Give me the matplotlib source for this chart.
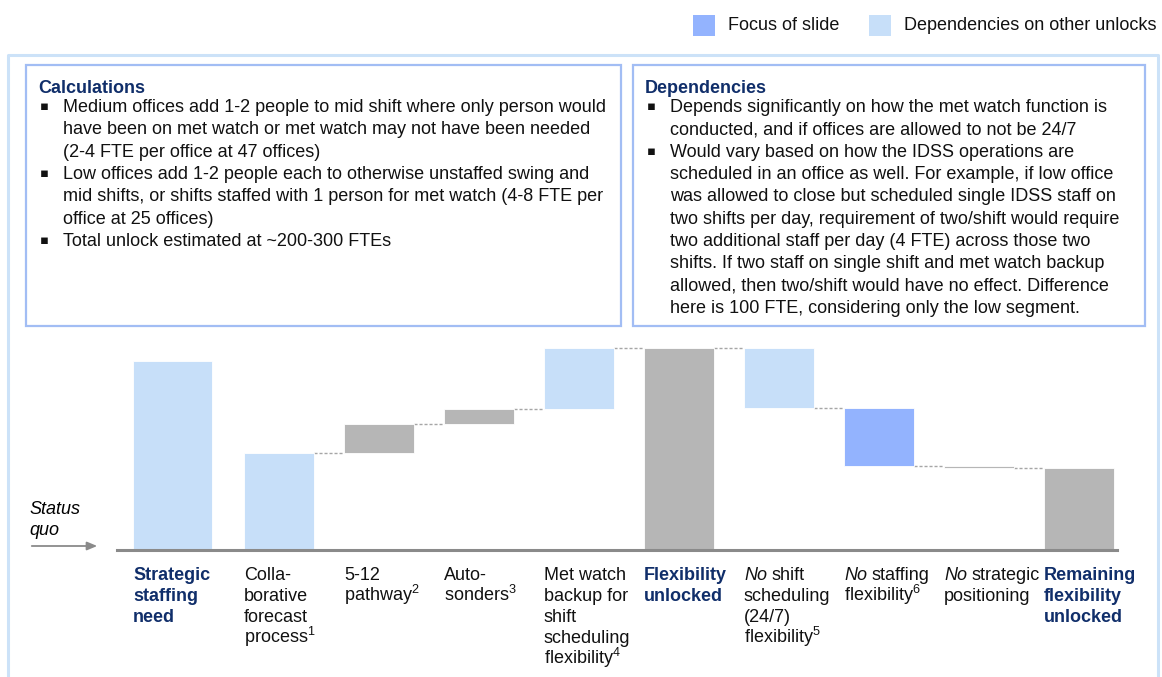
import numpy as np
import matplotlib.pyplot as plt
import matplotlib.transforms as mtransforms
from matplotlib.patches import Rectangle
from matplotlib.lines import Line2D

plt.rcParams['font.family'] = ['Liberation Sans', 'DejaVu Sans']
plt.rcParams['mathtext.fontset'] = 'custom'
plt.rcParams['mathtext.rm'] = 'Liberation Sans'
plt.rcParams['mathtext.it'] = 'Liberation Sans:italic'
plt.rcParams['mathtext.bf'] = 'Liberation Sans:bold'

## data
categories = [
    "Strategic\nstaffing\nneed",
    "Colla-\nborative\nforecast\nprocess$^{\\mathrm{1}}$",
    "5-12\npathway$^{\\mathrm{2}}$",
    "Auto-\nsonders$^{\\mathrm{3}}$",
    "Met watch\nbackup for\nshift\nscheduling\nflexibility$^{\\mathrm{4}}$",
    "Flexibility\nunlocked",
    "No shift\nscheduling\n(24/7)\nflexibility$^{\\mathrm{5}}$",
    "No staffing\nflexibility$^{\\mathrm{6}}$",
    "No strategic\npositioning",
    "Remaining\nflexibility\nunlocked",
]
staffing_need = 189
unlock_steps = [97, 29, 15, 61]      # collaborative, 5-12, auto-sonders, met watch
loss_steps = [-60, -58, -2]          # no shift, no staffing, no strategic
bar_roles = ["dep", "dep", "base", "base", "dep", "total", "dep", "focus", "base", "total"]

legend_labels = ["Focus of slide", "Dependencies on other unlocks"]

calc_title = "Calculations"
calc_bullets = [
    ["Medium offices add 1-2 people to mid shift where only person would",
     "have been on met watch or met watch may not have been needed",
     "(2-4 FTE per office at 47 offices)"],
    ["Low offices add 1-2 people each to otherwise unstaffed swing and",
     "mid shifts, or shifts staffed with 1 person for met watch (4-8 FTE per",
     "office at 25 offices)"],
    ["Total unlock estimated at ~200-300 FTEs"],
]
dep_title = "Dependencies"
dep_bullets = [
    ["Depends significantly on how the met watch function is",
     "conducted, and if offices are allowed to not be 24/7"],
    ["Would vary based on how the IDSS operations are",
     "scheduled in an office as well. For example, if low office",
     "was allowed to close but scheduled single IDSS staff on",
     "two shifts per day, requirement of two/shift would require",
     "two additional staff per day (4 FTE) across those two",
     "shifts. If two staff on single shift and met watch backup",
     "allowed, then two/shift would have no effect. Difference",
     "here is 100 FTE, considering only the low segment."],
]

## styles
LIGHT = "#C7DFF9"
FOCUS = "#93B3FE"
GREY = "#B6B6B6"
NAVY = "#102E6A"
BOX = "#A2BDF4"
FRAME = "#CCE2F8"
role_color = {"dep": LIGHT, "focus": FOCUS, "base": GREY, "total": GREY}

W, H = 1162, 677


def fx(px):
    return px / W


def fy(py):
    return 1 - py / H


fig = plt.figure(figsize=(W / 100, H / 100), dpi=100)
renderer = fig.canvas.get_renderer()

# outer frame (open at the bottom)
fig.add_artist(Line2D([fx(8), fx(8), fx(1158), fx(1158)],
                      [fy(690), fy(55), fy(55), fy(690)],
                      transform=fig.transFigure, color=FRAME, lw=2.2))

# legend
for (x0, lbl, col) in [(693, legend_labels[0], FOCUS), (869, legend_labels[1], LIGHT)]:
    fig.add_artist(Rectangle((fx(x0), fy(36)), 22 / W, 21 / H,
                             transform=fig.transFigure, color=col, lw=0))
    fig.text(fx(x0 + 35), fy(25), lbl, fontsize=13, va="center", ha="left", color="#111111")


def text_box(x0, x1, y0, y1, title, bullets):
    fig.add_artist(Rectangle((fx(x0), fy(y1)), (x1 - x0) / W, (y1 - y0) / H,
                             transform=fig.transFigure, fill=False, ec=BOX, lw=1.6))
    fig.text(fx(x0 + 12), fy(y0 + 28), title, fontsize=13, fontweight="bold",
             color=NAVY, va="baseline")
    base = y0 + 47
    k = 0
    for item in bullets:
        fig.text(fx(x0 + 14), fy(base + 22.3 * k - 2), "\u25aa", fontsize=9.5,
                 va="baseline", color="#111111", family="DejaVu Sans")
        for line in item:
            fig.text(fx(x0 + 37), fy(base + 22.3 * k), line, fontsize=13,
                     va="baseline", color="#111111")
            k += 1


text_box(26, 621, 65, 326, calc_title, calc_bullets)
text_box(633, 1145, 65, 326, dep_title, dep_bullets)

## waterfall
flex_total = sum(unlock_steps)
remaining = flex_total + sum(loss_steps)

bottoms, heights = [0], [staffing_need]
level = 0
for v in unlock_steps:
    bottoms.append(level)
    heights.append(v)
    level += v
bottoms.append(0)
heights.append(flex_total)
for v in loss_steps:
    bottoms.append(level + v)
    heights.append(-v)
    level += v
bottoms.append(0)
heights.append(remaining)

n = len(categories)
xs = np.arange(n, dtype=float)
xs[0] -= 0.065
widths = np.full(n, 0.70)
widths[0] = 0.79

ax = fig.add_axes([fx(117), fy(550), 1000 / W, 210 / H])
ax.set_xlim(-0.62, 9.38)
ax.set_ylim(0, 210)
ax.axis("off")

ax.bar(xs, heights, bottom=bottoms, width=widths,
       color=[role_color[r] for r in bar_roles], edgecolor="white", lw=0.6, zorder=2)
ax.axhline(0, color="#8A8A8A", lw=2.2, clip_on=False, zorder=3)

# dashed connectors between consecutive steps
tops = [b + h for b, h in zip(bottoms, heights)]
levels = [tops[1], tops[2], tops[3], tops[4], tops[5], bottoms[6], bottoms[7], bottoms[8]]
for i, lv in zip(range(1, n - 1), levels):
    ax.hlines(lv, xs[i] + widths[i] / 2, xs[i + 1] - widths[i + 1] / 2,
              colors="#A6A6A6", lw=1.0, linestyles=(0, (2.2, 1.4)), zorder=1)

# category labels under the baseline ("No" is set in italics)
trans = mtransforms.blended_transform_factory(ax.transData, fig.transFigure)
for i, lbl in enumerate(categories):
    total = bar_roles[i] == "total" or i == 0
    style = dict(fontsize=13, va="baseline", ha="left",
                 fontweight="bold" if total else "normal",
                 color=NAVY if total else "#111111")
    x_left = xs[i] - widths[i] / 2
    for k, line in enumerate(lbl.split("\n")):
        y = fy(580 + 21 * k)
        if line.startswith("No "):
            t = ax.text(x_left, y, "No", transform=trans, style="italic", **style)
            dx = t.get_window_extent(renderer).width + 5
            ax.text(x_left, y, line[3:], transform=mtransforms.offset_copy(
                trans, fig=fig, x=dx, units="dots"), **style)
        else:
            ax.text(x_left, y, line, transform=trans, **style)

# status quo marker
fig.text(fx(29), fy(514), "Status", fontsize=13, style="italic", va="baseline")
fig.text(fx(29), fy(535), "quo", fontsize=13, style="italic", va="baseline")
ax.annotate("", xy=(100, H - 546), xytext=(29, H - 546), xycoords="figure pixels",
            textcoords="figure pixels",
            arrowprops=dict(arrowstyle="-|>,head_length=0.6,head_width=0.25",
                            color="#8A8A8A", lw=1.3))

fig.savefig("out.png", dpi=100)
